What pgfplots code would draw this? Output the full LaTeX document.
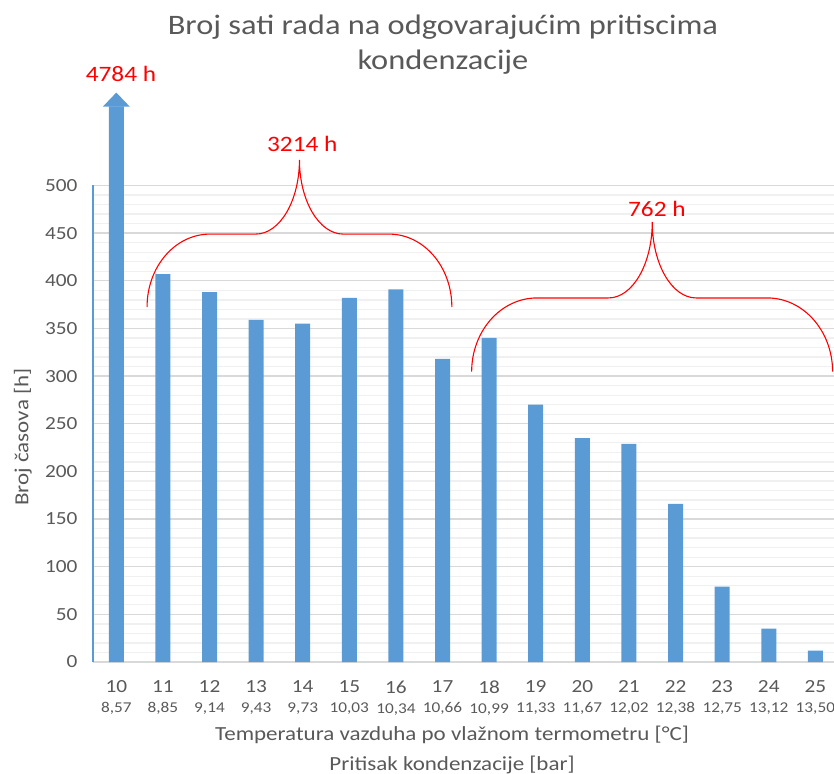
\documentclass[border=0pt]{standalone}
\usepackage{fontspec}
\setmainfont{Carlito}[FakeStretch=1.15]
\usepackage{pgfplots}
\pgfplotsset{compat=1.18}
\definecolor{barblue}{HTML}{5B9BD5}
\definecolor{txt}{HTML}{595959}
\definecolor{majgrid}{HTML}{D9D9D9}
\definecolor{mingrid}{HTML}{F0F0F0}
\newcommand{\sm}[1]{{\fontsize{15bp}{15bp}\selectfont #1}}
\begin{document}
\begin{tikzpicture}
\begin{axis}[
  at={(0,0)}, anchor=south west,
  scale only axis, width=741bp, height=476.5bp,
  xmin=-0.5, xmax=15.4, ymin=0, ymax=500,
  clip=false,
  axis lines=left, axis line style={-},
  x axis line style={draw=majgrid, line width=2.3bp},
  y axis line style={draw=barblue, line width=1.2bp},
  ytick={0,50,...,500}, minor y tick num=4,
  ymajorgrids, yminorgrids,
  major grid style={draw=majgrid, line width=1.3bp},
  minor grid style={draw=mingrid, line width=1.3bp},
  major tick length=0pt, minor tick length=0pt,
  xtick={0,...,15},
  xticklabels={{10\\[1bp]\sm{8,57}},{11\\[1bp]\sm{8,85}},{12\\[1bp]\sm{9,14}},{13\\[1bp]\sm{9,43}},{14\\[1bp]\sm{9,73}},{15\\[1bp]\sm{10,03}},{16\\[1bp]\sm{10,34}},{17\\[1bp]\sm{10,66}},{18\\[1bp]\sm{10,99}},{19\\[1bp]\sm{11,33}},{20\\[1bp]\sm{11,67}},{21\\[1bp]\sm{12,02}},{22\\[1bp]\sm{12,38}},{23\\[1bp]\sm{12,75}},{24\\[1bp]\sm{13,12}},{25\\[1bp]\sm{13,50}}},
  /pgf/number format/assume math mode=true,
  yticklabel style={font=\fontsize{18.5bp}{18.5bp}\selectfont, text=txt, xshift=-12bp},
  xticklabel style={font=\fontsize{18.5bp}{19bp}\selectfont, text=txt, align=center, yshift=-15bp},
  ylabel={Broj časova [h]},
  ylabel style={at={(axis description cs:-0.0945,0.472)}, anchor=center, font=\fontsize{20bp}{20bp}\selectfont, text=txt},
  xlabel={Temperatura vazduha po vlažnom termometru [°C]\\Pritisak kondenzacije [bar]},
  xlabel style={at={(axis description cs:0.4845,-0.228)}, anchor=base, align=center, font=\fontsize{20bp}{30bp}\selectfont, text=txt},
  title={Broj sati rada na odgovarajućim pritiscima\\kondenzacije},
  title style={at={(axis description cs:0.4723,1.2304)}, anchor=base, align=center, font=\fontsize{28.2bp}{35bp}\selectfont, text=txt},
]
\addplot[ybar, bar width=15bp, fill=barblue, draw=none] coordinates {
(0,583) (1,407) (2,388) (3,359) (4,355) (5,382) (6,391) (7,318)
(8,340) (9,270) (10,235) (11,229) (12,166) (13,79) (14,35) (15,12)};
\fill[barblue] (-0.29,582.7) -- (0.29,582.7) -- (0,597.5) -- cycle;
\draw[red, line width=1.1bp] (0.66,372.5) .. controls (0.66,414.7) and (1.26,449) .. (2.01,449) -- (2.99,449) .. controls (3.51,449) and (3.93,484) .. (3.93,527) .. controls (3.93,484) and (4.35,449) .. (4.87,449) -- (5.85,449) .. controls (6.60,449) and (7.20,414.7) .. (7.20,372.5);
\draw[red, line width=1.1bp] (7.625,304.6) .. controls (7.625,347.3) and (8.252,382) .. (9.025,382) -- (10.56,382) .. controls (11.08,382) and (11.5,417.7) .. (11.5,461.7) .. controls (11.5,417.7) and (11.92,382) .. (12.44,382) -- (13.97,382) .. controls (14.743,382) and (15.37,347.3) .. (15.37,304.6);
\node[red, font=\fontsize{22bp}{22bp}\selectfont] at (0.1,617.5) {4784 h};
\node[red, font=\fontsize{22bp}{22bp}\selectfont] at (3.99,544) {3214 h};
\node[red, font=\fontsize{22bp}{22bp}\selectfont] at (11.6,475.3) {762 h};
\end{axis}
\pgfresetboundingbox
\path[use as bounding box] (-93bp,-112bp) rectangle (741bp,662bp);
\end{tikzpicture}
\end{document}
